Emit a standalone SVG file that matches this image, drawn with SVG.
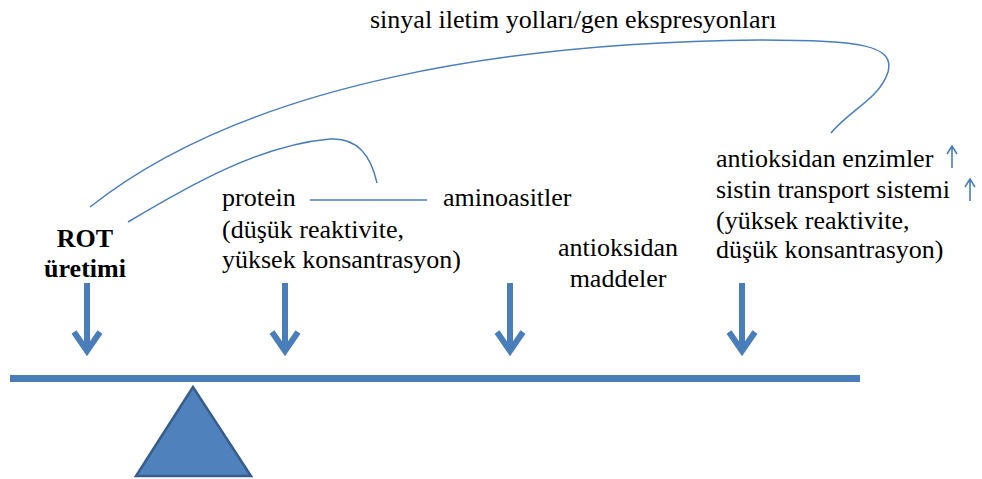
<svg xmlns="http://www.w3.org/2000/svg" width="982" height="479" viewBox="0 0 982 479">
<style>
.t{font-size:26px;fill:#000}
.b{font-weight:bold}
.c{text-anchor:middle}
.thin{fill:none;stroke:#4a7ebb;stroke-width:1.5}
.down{fill:none;stroke:#4a7ebb;stroke-width:6}
.up{fill:none;stroke:#4a7ebb;stroke-width:1.6}
</style>
<rect width="982" height="479" fill="#fff"/>
<g id="connectors">
<path class="thin" d="M90,207 C250,80 520,42 760,40 C860,40 895,45 888,72 C880,98 850,110 831,133"/>
<path class="thin" d="M128,222 C190,185 260,145 330,139 C360,137 372,160 377,183"/>
<line class="thin" x1="310" y1="200" x2="427" y2="200"/>
<g class="down">
<path d="M87,283 V350 M74,332 L87,351 L100,332"/>
<path d="M285,283 V350 M272,332 L285,351 L298,332"/>
<path d="M510,283 V350 M497,332 L510,351 L523,332"/>
<path d="M742,283 V350 M729,332 L742,351 L755,332"/>
</g>
</g>
<g id="balance">
<rect x="10" y="375" width="850" height="7" fill="#4a7ebb"/>
<polygon points="193,387 136,476 251,476" fill="#4f81bd" stroke="#385d8a" stroke-width="2.5"/>
</g>
<g font-family="Liberation Serif, Times New Roman, serif">
<g id="signal"><text class="t" x="370" y="28">sinyal iletim yolları/gen ekspresyonları</text></g>
<g id="rot"><text class="t b c" x="85" y="247">ROT</text><text class="t b c" x="85" y="277">üretimi</text></g>
<g id="protein"><text class="t" x="222" y="206">protein</text><text class="t" x="222" y="238">(düşük reaktivite,</text><text class="t" x="222" y="268">yüksek konsantrasyon)</text></g>
<g id="aminoasitler"><text class="t" x="443" y="206">aminoasitler</text></g>
<g id="maddeler"><text class="t c" x="618" y="256">antioksidan</text><text class="t c" x="618" y="287">maddeler</text></g>
<g id="enzimler">
<text class="t" x="716" y="167">antioksidan enzimler</text>
<text class="t" x="716" y="198">sistin transport sistemi</text>
<text class="t" x="716" y="229">(yüksek reaktivite,</text>
<text class="t" x="716" y="258">düşük konsantrasyon)</text>
<path class="up" d="M952,168 V146 M947,154 L952,146 L957,154"/>
<path class="up" d="M970,201 V179 M965,187 L970,179 L975,187"/>
</g>
</g>
</svg>
